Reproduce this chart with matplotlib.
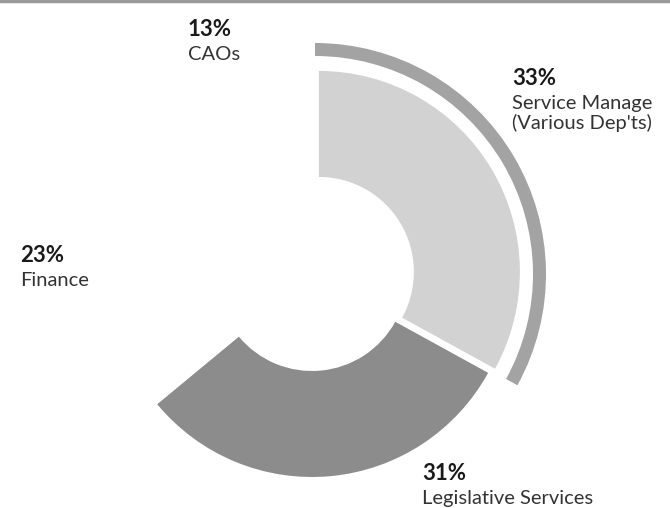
import matplotlib.pyplot as plt

# staff share by area
labels = ["Service Manage\n(Various Dep'ts)", "Legislative Services", "Finance", "CAOs"]
shares = [33, 31, 23, 13]
colors = ["#d2d2d2", "#8c8c8c", "white", "white"]

plt.rcParams['font.family'] = ['Lato', 'DejaVu Sans']

fig = plt.figure(figsize=(6.7, 5.08), dpi=100)
ax = fig.add_axes([0, 0, 1, 1])

cx, cy = 312, 232

# main donut, first slice pulled out a little (explode is in data units here)
ax.pie(shares, colors=colors, startangle=90, counterclock=False,
       radius=201, center=(cx, cy), explode=[8, 0, 0, 0],
       wedgeprops=dict(width=106, linewidth=0))

# thin outer band over the first slice only
ax.pie(shares, colors=["#a3a3a3", "none", "none", "none"], startangle=90,
       counterclock=False, radius=231, center=(cx + 3, cy + 2),
       wedgeprops=dict(width=13, linewidth=0))

ax.set_xlim(0, 670)
ax.set_ylim(0, 508)
ax.set_aspect('equal')
ax.axis('off')

# label anchors: left x, baseline y of the percentage (pixel coords, y up)
label_xy = [(512, 423), (422, 28), (20, 246), (188, 472)]
for (x, y), s, lab in zip(label_xy, shares, labels):
    ax.text(x, y, f"{s}%", fontsize=16, fontweight='bold', color='#1a1a1a',
            ha='left', va='baseline')
    ax.text(x, y - 10, lab, fontsize=14.5, color='#333333', ha='left', va='top',
            linespacing=1.15)

# thin rule along the top edge
ax.plot([0, 670], [507, 507], color='#9a9a9a', linewidth=2.5)

fig.savefig("out.png", dpi=100)
